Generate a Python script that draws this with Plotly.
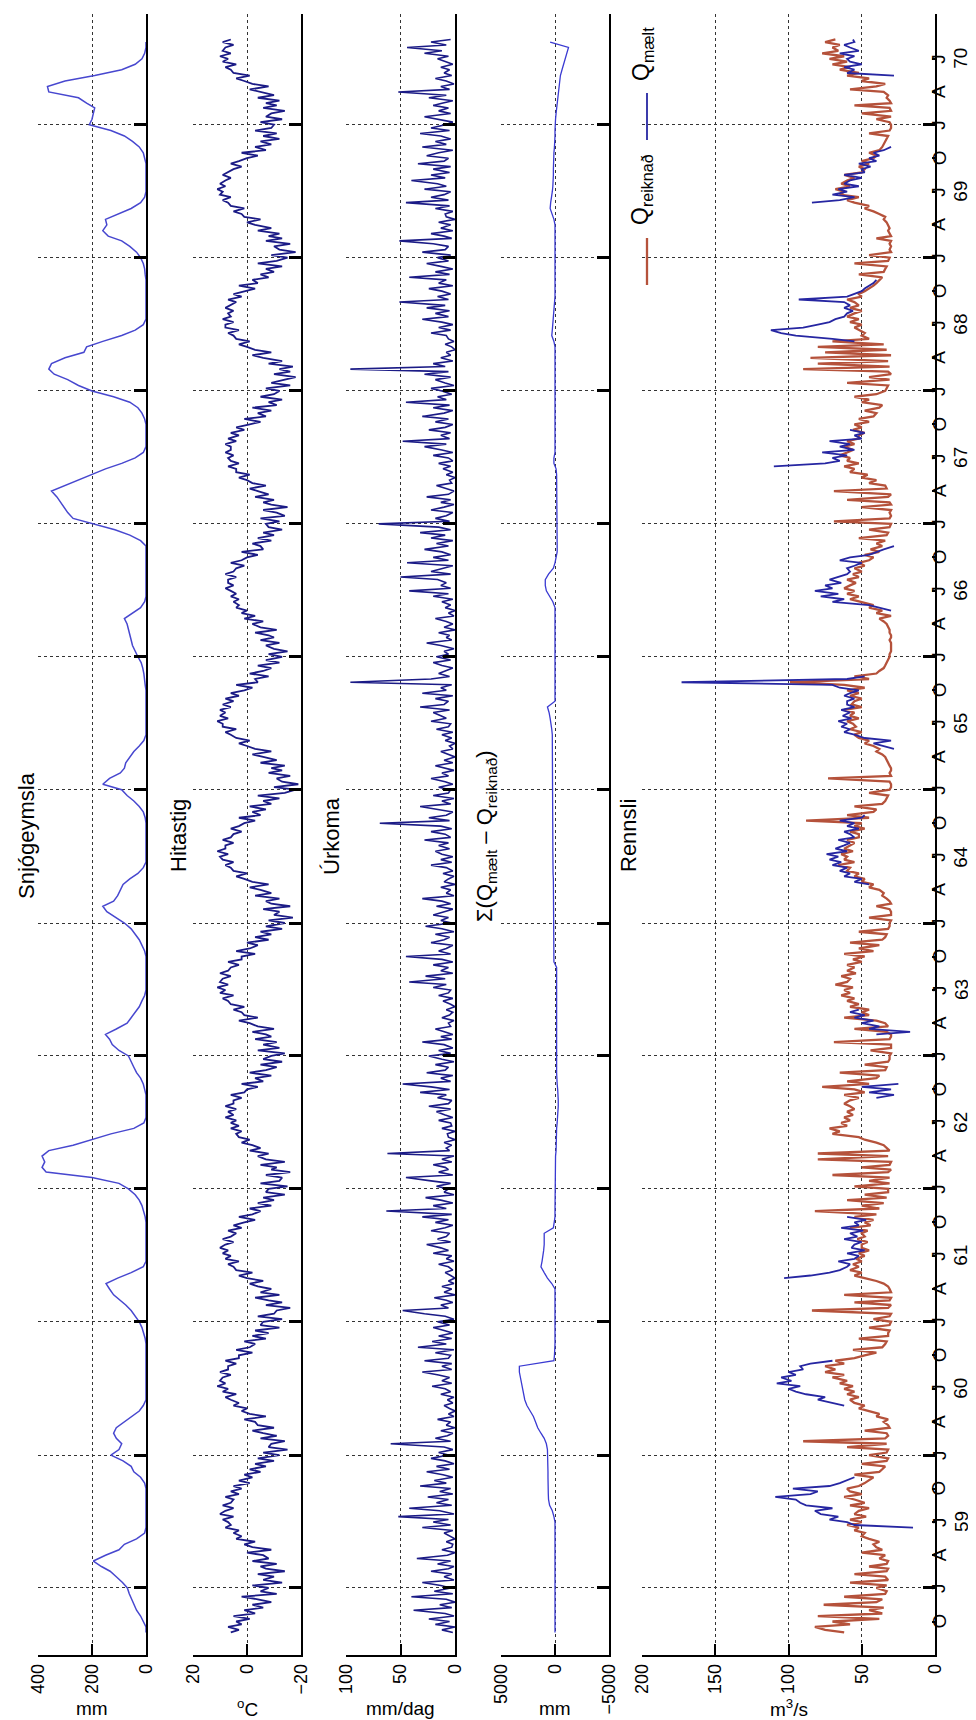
import plotly.graph_objects as go

N = None

# ---------------- sampling grid (hydrological years Sep 1958 - Aug 1970) ----------------
hydro_start_years = [1958, 1959, 1960, 1961, 1962, 1963, 1964, 1965, 1966, 1967, 1968, 1969]
month_numbers = [9, 10, 11, 12, 1, 2, 3, 4, 5, 6, 7, 8]
weekly_days = [1, 8, 16, 23]
half_month_days = [1, 16]

# ---------------- data ----------------
# Snow storage (mm), values on the 1st and 16th of each month, Sep..Aug
snow_mm = [
    0, 0, 10, 20, 35, 45, 55, 62, 69, 87, 110, 133, 165, 195, 150, 100, 80, 35, 5, 0, 0, 0, 0, 0,
    0, 0, 0, 5, 20, 45, 55, 85, 130, 100, 90, 110, 120, 110, 80, 55, 25, 10, 0, 0, 0, 0, 0, 0,
    0, 0, 0, 0, 0, 3, 8, 15, 25, 40, 55, 75, 95, 120, 135, 148, 105, 55, 10, 0, 0, 0, 0, 0,
    0, 0, 0, 3, 8, 15, 25, 40, 65, 100, 200, 370, 385, 375, 385, 360, 270, 200, 130, 45, 8, 0, 0, 0,
    0, 0, 5, 10, 20, 35, 45, 55, 65, 100, 125, 135, 150, 110, 70, 55, 40, 25, 15, 5, 0, 0, 0, 0,
    0, 0, 0, 5, 15, 25, 40, 55, 80, 110, 145, 160, 120, 105, 95, 85, 60, 30, 10, 0, 0, 0, 0, 0,
    0, 0, 0, 3, 10, 25, 45, 70, 90, 160, 135, 95, 80, 75, 60, 45, 25, 8, 0, 0, 0, 0, 0, 0,
    0, 0, 0, 3, 5, 8, 12, 18, 30, 40, 50, 55, 60, 65, 70, 80, 50, 20, 5, 0, 0, 0, 0, 0,
    0, 0, 0, 0, 0, 20, 60, 115, 200, 270, 290, 305, 315, 330, 350, 300, 250, 200, 150, 90, 40, 10, 0, 0,
    0, 0, 0, 5, 15, 30, 60, 120, 200, 250, 290, 340, 360, 350, 300, 230, 220, 160, 90, 40, 10, 0, 0, 0,
    0, 0, 0, 0, 0, 3, 5, 10, 20, 35, 60, 90, 140, 160, 145, 150, 100, 55, 20, 5, 0, 0, 0, 0,
    0, 0, 5, 10, 25, 50, 80, 130, 210, 200, 195, 190, 220, 250, 360, 365, 300, 190, 90, 40, 15, 5, 0, 0,
]

# Cumulative difference (mm), 1st and 16th of each month
sigma_mm = [
    0, 0, 0, 0, 0, 0, 0, 0, 0, 0, 0, 0, 0, 0, 0, 0, 0, 0, 0, 0, 0, 100, 250, 500,
    600, 620, 650, 650, 650, 650, 650, 650, 650, 700, 800, 1000, 1300, 1600, 1800, 2000, 2300, 2600, 2800, 2900, 3000, 3100, 3200, 3300,
    3300, 100, 50, 0, 0, 0, 0, 0, 0, 0, 0, 0, 0, 0, 0, 300, 700, 1000, 1300, 1200, 1100, 1050, 1000, 1000,
    1000, 150, 50, 0, 0, 0, 0, 0, 0, 0, 0, 0, -50, -50, -50, -100, -100, -100, -100, -150, -200, -250, -300, -300,
    -300, -300, -250, -200, -150, -150, -150, -150, -150, -150, -150, -150, -150, -150, -150, -150, -150, -150, -150, -150, -150, -150, -150, -150,
    -150, 100, 100, 100, 100, 100, 100, 100, 100, 100, 100, 100, 100, 100, 100, 120, 150, 180, 200, 200, 200, 200, 200, 200,
    200, 200, 200, 200, 200, 200, 200, 200, 200, 200, 200, 200, 200, 200, 200, 200, 200, 220, 250, 300, 350, 450, 550, 700,
    0, 0, 0, 0, 0, 0, 0, 0, 0, 0, 0, 0, 0, 0, 0, 0, 0, 0, 200, 500, 800, 900, 900, 600,
    150, 0, -100, -200, -200, -200, -200, -200, -200, -200, -200, -200, -200, -200, -200, -200, -200, -150, -100, 100, 100, 0, 0, 0,
    0, 0, 0, 0, 0, 0, 0, 0, 0, 0, 0, 0, 0, 0, 0, 0, 0, 100, 300, 250, 200, 150, 100, 50,
    50, 0, 0, 0, 0, 0, 0, 0, 0, 0, 0, 0, 0, 0, 0, 100, 300, 450, 400, 300, 250, 200, 150, 150,
    150, 150, 150, 100, 50, 0, 0, 0, 0, -50, -100, -150, -200, -250, -300, -350, -400, -500, -650, -800, -950, -1100, -1250, 450,
]

# Air temperature (deg C), four values per month
temp_c = [
    6, 3, 7, 2, 4, -1, 5, -3, 1, -6, -2, -9, -4, 2, -11, -5, -8, -2, -13, -6, -10, -4, -14, -7, -5, -11, -2, -8, -6, 0, -9, -2, 1, -3, 4, 2, 5, 3, 8, 6, 7, 9, 5, 10, 8, 5, 9, 6,
    5, 8, 3, 6, 2, 5, -1, 3, -2, 1, -5, -1, -7, -3, -10, -4, -12, -6, -15, -8, -9, -14, -5, -11, -6, -2, -10, -4, -3, 1, -7, -1, 2, 0, 5, 3, 6, 8, 4, 9, 7, 11, 8, 10, 9, 6, 10, 7,
    7, 4, 8, 3, 3, -2, 4, -1, -3, 1, -7, -2, -8, -3, -12, -5, -6, -13, -4, -10, -11, -16, -7, -13, -8, -3, -12, -5, -9, -4, -1, -6, 0, 3, -2, 4, 5, 7, 3, 8, 6, 9, 7, 10, 8, 5, 9, 6,
    4, 7, 2, 5, 1, -3, 3, -2, -5, -1, -9, -4, -10, -6, -14, -7, -8, -15, -5, -12, -13, -7, -16, -9, -11, -5, -14, -7, -4, -8, -1, -5, -2, 2, -1, 3, 4, 2, 6, 3, 6, 4, 8, 5, 7, 4, 8, 5,
    5, 2, 6, 1, 0, -4, 2, -6, -3, -9, -1, -7, -11, -5, -13, -6, -9, -14, -4, -12, -6, -11, -3, -9, -7, -2, -10, -4, -1, 3, -4, 1, 2, 5, 1, 6, 7, 9, 5, 10, 8, 11, 7, 10, 9, 6, 10, 7,
    6, 3, 7, 2, 2, -3, 4, -1, -4, 0, -8, -3, -9, -5, -13, -7, -14, -8, -17, -10, -12, -6, -16, -9, -7, -12, -3, -9, -5, -1, -8, -2, 1, 4, 0, 5, 6, 8, 5, 9, 10, 7, 11, 8, 8, 5, 9, 6,
    5, 2, 6, 3, 1, -3, 3, -5, -2, -7, -1, -9, -6, -12, -4, -14, -18, -10, -19, -13, -11, -16, -8, -13, -9, -14, -5, -11, -6, -2, -9, -3, 0, 3, -1, 4, 6, 8, 4, 9, 9, 11, 7, 10, 8, 10, 6, 9,
    5, 8, 3, 6, 1, -2, 4, -4, -3, -8, -1, -6, -9, -4, -12, -7, -13, -8, -15, -10, -7, -12, -5, -10, -8, -3, -11, -5, -2, -6, 1, -3, 2, 0, 4, 3, 5, 3, 6, 4, 6, 8, 5, 7, 7, 4, 8, 5,
    4, 1, 6, 2, 0, -4, 2, -6, -5, -2, -9, -4, -10, -6, -13, -8, -7, -12, -5, -14, -11, -6, -15, -9, -6, -10, -3, -8, -4, -1, -7, -2, 0, 3, -1, 4, 4, 7, 3, 6, 7, 5, 8, 6, 6, 8, 4, 7,
    3, 6, 1, 4, -1, -5, 1, -7, -4, -9, -2, -11, -8, -13, -5, -10, -12, -7, -16, -9, -14, -18, -10, -16, -12, -17, -8, -13, -6, -2, -9, -3, 0, 3, -1, 4, 5, 7, 3, 8, 8, 5, 9, 6, 7, 5, 8, 6,
    4, 7, 2, 5, 1, -3, 3, -4, -2, -8, -5, -10, -7, -13, -4, -11, -15, -9, -18, -12, -10, -16, -7, -13, -8, -12, -4, -9, -3, 0, -5, 1, 2, 5, 1, 6, 7, 9, 6, 10, 9, 11, 8, 10, 8, 6, 9, 7,
    5, 2, 6, 3, 0, -4, 2, -7, -3, -9, -5, -12, -6, -11, -3, -9, -10, -5, -13, -7, -9, -14, -6, -11, -7, -12, -4, -10, -5, -1, -8, -2, 1, 4, -1, 5, 6, 8, 4, 9, 7, 10, 6, 9, 8, 5, 9, 6,
]

# Precipitation (mm/day), four values per month
precip_mm = [
    2, 12, 0, 18, 5, 24, 1, 9, 38, 3, 14, 0, 8, 40, 2, 19, 4, 13, 30, 1, 10, 3, 22, 6, 1, 16, 4, 35, 7, 0, 12, 3, 2, 8, 0, 5, 10, 2, 30, 4, 20, 6, 52, 1, 14, 42, 3, 17,
    6, 25, 2, 14, 4, 32, 8, 19, 2, 11, 26, 5, 17, 1, 9, 22, 6, 15, 2, 10, 59, 4, 18, 7, 2, 13, 0, 8, 4, 16, 1, 6, 0, 5, 10, 2, 7, 1, 13, 4, 9, 21, 3, 12, 5, 15, 30, 3,
    12, 3, 28, 6, 4, 18, 1, 34, 8, 21, 3, 15, 2, 10, 20, 5, 16, 1, 9, 28, 48, 6, 13, 2, 8, 19, 0, 10, 3, 12, 1, 6, 0, 4, 9, 2, 6, 15, 1, 8, 3, 20, 6, 13, 26, 4, 16, 8,
    5, 22, 9, 2, 18, 6, 30, 3, 63, 8, 20, 2, 13, 27, 1, 10, 6, 17, 4, 22, 45, 2, 15, 6, 9, 20, 3, 12, 1, 62, 5, 8, 3, 10, 0, 6, 7, 0, 12, 3, 4, 15, 2, 9, 17, 4, 24, 6,
    3, 16, 8, 32, 5, 22, 48, 4, 13, 2, 26, 9, 6, 18, 1, 12, 24, 4, 15, 2, 10, 30, 3, 13, 2, 9, 18, 4, 6, 1, 12, 5, 2, 8, 0, 4, 11, 2, 15, 6, 4, 20, 8, 42, 9, 27, 2, 13,
    6, 20, 2, 12, 45, 4, 15, 8, 2, 22, 10, 5, 18, 1, 12, 27, 3, 13, 6, 20, 9, 2, 17, 4, 12, 30, 1, 8, 4, 13, 0, 10, 6, 1, 11, 2, 8, 22, 3, 13, 2, 12, 18, 5, 15, 6, 28, 4,
    9, 22, 3, 13, 69, 5, 24, 8, 2, 16, 32, 4, 12, 1, 20, 6, 4, 15, 2, 9, 22, 6, 12, 1, 8, 18, 2, 10, 0, 6, 13, 2, 5, 0, 9, 3, 12, 2, 17, 6, 4, 22, 8, 13, 20, 5, 32, 10,
    6, 18, 2, 30, 8, 13, 3, 96, 22, 5, 15, 9, 2, 12, 20, 4, 17, 6, 10, 1, 13, 26, 3, 8, 5, 15, 0, 10, 2, 8, 18, 1, 6, 0, 9, 4, 12, 2, 20, 6, 42, 4, 13, 8, 16, 50, 4, 22,
    10, 2, 44, 6, 20, 4, 12, 28, 6, 17, 2, 22, 9, 32, 4, 15, 70, 5, 18, 8, 2, 22, 10, 1, 13, 4, 26, 6, 1, 9, 17, 3, 5, 0, 8, 2, 11, 4, 15, 2, 6, 20, 2, 12, 28, 8, 48, 5,
    13, 4, 24, 9, 2, 18, 6, 30, 10, 2, 20, 5, 45, 8, 16, 3, 12, 22, 1, 9, 18, 4, 28, 6, 96, 9, 20, 2, 13, 4, 8, 0, 3, 9, 1, 6, 8, 22, 4, 15, 2, 12, 30, 6, 18, 5, 26, 9,
    51, 6, 16, 4, 12, 24, 2, 15, 8, 42, 5, 18, 2, 13, 26, 6, 16, 4, 30, 9, 6, 20, 51, 3, 10, 22, 2, 13, 4, 15, 0, 8, 9, 2, 18, 5, 45, 6, 22, 10, 4, 28, 8, 16, 40, 9, 22, 5,
    20, 4, 34, 10, 6, 26, 15, 2, 30, 8, 18, 4, 13, 32, 5, 22, 9, 2, 16, 28, 4, 15, 6, 20, 12, 2, 24, 8, 52, 5, 13, 1, 8, 18, 3, 10, 5, 13, 2, 9, 16, 6, 28, 12, 44, 8, 22, 4,
]

# Runoff, computed (m3/s), four values per month
q_reiknad = [
    62, 75, 82, 58, 70, 38, 80, 36, 45, 35, 76, 40, 36, 62, 34, 33, 40, 33, 58, 32, 34, 55, 33, 32, 45, 33, 32, 38, 34, 50, 36, 40, 42, 38, 45, 50, 48, 55, 52, 60, 50, 58, 47, 55, 52, 45, 58, 48,
    55, 62, 50, 58, 60, 52, 48, 45, 42, 55, 38, 36, 34, 50, 33, 32, 45, 33, 32, 60, 33, 90, 34, 32, 33, 48, 31, 32, 35, 32, 40, 38, 45, 52, 48, 55, 58, 52, 60, 55, 62, 56, 65, 60, 70, 62, 75, 68,
    75, 62, 68, 55, 48, 40, 56, 36, 34, 33, 52, 32, 32, 31, 45, 31, 30, 42, 31, 30, 84, 32, 30, 55, 31, 30, 62, 30, 31, 32, 35, 40, 48, 55, 50, 58, 52, 56, 50, 54, 48, 52, 45, 50, 50, 46, 53, 48,
    50, 46, 58, 44, 48, 42, 55, 40, 82, 38, 50, 35, 60, 33, 48, 32, 32, 55, 31, 45, 31, 70, 32, 30, 50, 31, 30, 80, 32, 80, 31, 33, 35, 40, 48, 52, 70, 65, 72, 60, 64, 58, 62, 56, 60, 55, 58, 62,
    58, 52, 62, 48, 55, 77, 45, 60, 40, 38, 65, 34, 33, 48, 32, 31, 31, 30, 44, 30, 30, 69, 31, 30, 30, 33, 55, 32, 34, 40, 62, 45, 50, 45, 58, 52, 60, 55, 64, 58, 62, 56, 68, 60, 58, 64, 54, 60,
    55, 60, 50, 56, 48, 62, 42, 52, 38, 58, 36, 34, 33, 52, 32, 31, 31, 30, 45, 30, 30, 31, 40, 30, 31, 33, 36, 35, 38, 45, 42, 50, 48, 55, 52, 60, 58, 66, 55, 62, 60, 64, 56, 62, 58, 55, 60, 52,
    52, 58, 48, 55, 50, 88, 45, 60, 42, 40, 55, 36, 34, 33, 32, 45, 31, 30, 30, 31, 73, 30, 31, 30, 30, 31, 32, 33, 34, 36, 40, 38, 42, 48, 45, 52, 55, 50, 58, 54, 56, 60, 52, 58, 55, 62, 50, 57,
    55, 50, 58, 52, 60, 48, 62, 99, 45, 55, 40, 38, 35, 34, 33, 32, 31, 31, 30, 30, 30, 30, 31, 30, 30, 31, 31, 32, 33, 35, 38, 30, 40, 36, 45, 42, 50, 58, 52, 60, 55, 62, 58, 54, 60, 52, 56, 50,
    55, 48, 52, 45, 42, 48, 38, 44, 36, 40, 34, 52, 33, 32, 45, 31, 30, 69, 31, 30, 31, 30, 50, 30, 31, 60, 32, 30, 69, 33, 34, 45, 40, 50, 46, 58, 55, 62, 52, 60, 58, 65, 60, 56, 62, 55, 60, 52,
    52, 48, 56, 50, 55, 45, 52, 42, 40, 48, 38, 36, 50, 45, 55, 40, 34, 33, 32, 60, 31, 45, 30, 32, 90, 31, 80, 32, 85, 30, 75, 33, 80, 35, 70, 45, 50, 48, 52, 55, 50, 58, 52, 60, 55, 50, 58, 52,
    55, 60, 50, 52, 48, 45, 42, 40, 38, 36, 52, 35, 34, 33, 55, 32, 31, 45, 30, 31, 30, 31, 30, 40, 30, 31, 32, 31, 32, 33, 35, 34, 38, 42, 48, 45, 55, 60, 52, 65, 62, 68, 58, 64, 60, 55, 62, 50,
    48, 52, 45, 50, 42, 40, 45, 38, 36, 35, 34, 33, 32, 45, 31, 30, 30, 31, 40, 30, 50, 30, 31, 55, 30, 31, 33, 32, 35, 58, 40, 34, 50, 45, 60, 52, 65, 58, 70, 60, 72, 62, 77, 66, 70, 65, 75, 68,
]

# Runoff, measured (m3/s), four values per month, N = no measurement
q_maelt = (
    [N] * 36 + [N, N, 15, 55, 60, 72, 66, 78, 82, 70, 88, 92]
    + [95, 109, 85, 80, 97, 72, 65, 60, 55, N, N, N] + [N] * 20 + [N, N, 62, 70, 80, 75, 88, 95, 100, 92, 108, 98, 105, 95, 100, 90]
    + [92, 85, 70, N] + [N] * 28 + [103, 85, 72, 65, 60, 58, 66, 55, 52, 60, 48, 57, 55, 50, 62, 53]
    + [58, 49, 64, 52, 55, 47, 60, N] + [N] * 40
    + [N, 40, 28, 45, 30, 50, 25, N] + [N] * 16 + [40, 17, 45, 38, 50, 42, 55, 48, 58, 52, N, N] + [N] * 12
    + [N] * 28 + [N, N, 45, 55, 50, 62, 58, 65, 60, 70, 64, 72, 66, 74, 60, 68, 62, 58, 66, 55]
    + [58, 62, 52, 60, 55, 65, 50, 48] + [N] * 20 + [N, N, N, 28, 35, 42, 30, 48, 55, 62, 58, 64, 60, 66, 57, 63, 58, 64, 55, 60]
    + [60, 55, 62, 58, 52, 65, 70, 173, 60, 48, N, N] + [N] * 20 + [N, 30, 38, 45, 70, 62, 78, 66, 82, 70, 75, 64, 72, 66, 60, 58]
    + [60, 55, 50, 65, 58, 45, 40, 35, 28, N, N, N] + [N] * 24 + [N, 110, 75, 65, 70, 60, 77, 55, 65, 58, 72, 50]
    + [55, 48, 58, N] + [N] * 28 + [N, N, 55, 70, 95, 105, 112, 90, 80, 72, 68, 62, 60, 56, 62, 58]
    + [62, 93, 60, 55, 50, 48, 45, 42, 40, N, N, N] + [N] * 24 + [84, 65, 55, 70, 60, 66, 52, 62, 58, 50, 62, 48]
    + [50, 44, 52, 40, 45, 38, 42, 35, 30, N, N, N] + [N] * 20 + [N, N, 28, 60, 55, 62, 50, 58, 60, 55, 65, 52, 58, 62, 55, 56]
)

panel_titles = ["Snjógeymsla", "Hitastig", "Úrkoma",
                "Σ(Q<sub>mælt</sub> – Q<sub>reiknað</sub>)", "Rennsli"]
unit_labels = ["mm", "<sup>o</sup>C", "mm/dag", "mm", "m<sup>3</sup>/s"]
value_tick_vals = [[0, 200, 400], [-20, 0, 20], [0, 50, 100], [-5000, 0, 5000], [0, 50, 100, 150, 200]]
value_tick_text = [["0", "200", "400"], ["−20", "0", "20"], ["0", "50", "100"],
                   ["−5000", "0", "5000"], ["0", "50", "100", "150", "200"]]
value_ranges = [[400, 0], [20, -20], [100, 0], [5000, -5000], [200, 0]]
quarter_months = [1, 4, 7, 10]
quarter_letters = ["J", "A", "J", "O"]
year_labels = ["59", "60", "61", "62", "63", "64", "65", "66", "67", "68", "69", "70"]
legend_names = ["Q<sub>reiknað</sub>", "Q<sub>mælt</sub>"]


# ---------------- dates ----------------
def sample_dates(days):
    out = []
    for y0 in hydro_start_years:
        for m in month_numbers:
            yr = y0 if m >= 9 else y0 + 1
            for d in days:
                out.append(f"{yr}-{m:02d}-{d:02d}")
    return out


d_week = sample_dates(weekly_days)
d_half = sample_dates(half_month_days)
for name, arr, dd in [("snow", snow_mm, d_half), ("sigma", sigma_mm, d_half), ("temp", temp_c, d_week),
                      ("precip", precip_mm, d_week), ("qr", q_reiknad, d_week), ("qm", q_maelt, d_week)]:
    if len(arr) != len(dd):
        raise ValueError(f"{name}: {len(arr)} values for {len(dd)} dates")

jan_dates = [f"{y}-01-01" for y in range(1959, 1971)]
quarter_vals, quarter_text = [], []
for yr in range(1958, 1971):
    for m, letter in zip(quarter_months, quarter_letters):
        date = f"{yr}-{m:02d}-01"
        if "1958-10-01" <= date <= "1970-07-01":
            quarter_vals.append(date)
            quarter_text.append(letter)
year_vals = [f"19{y}-07-01" for y in year_labels]

# ---------------- layout geometry (pixels of the 976x1720 page) ----------------
W, H = 976, 1720
FONT = "Liberation Sans, Arial, Helvetica, sans-serif"
panel_px = [(30, 138), (185, 293), (338, 447), (493, 601), (634, 927)]
y_dom = [1 - 1647 / H, 1 - 6 / H]
t_range = ["1958-07-01", "1970-11-01"]
GRID = "#333333"

fig = go.Figure()

series = [
    (snow_mm, d_half, "#4747cf", 1.5, 1),
    (temp_c, d_week, "#1b1b86", 1.8, 2),
    (precip_mm, d_week, "#1b1b86", 1.6, 3),
    (sigma_mm, d_half, "#3a3ad2", 1.3, 4),
    (q_reiknad, d_week, "#b5523b", 2.3, 5),
    (q_maelt, d_week, "#2626a2", 1.8, 5),
]
for vals, dates, color, width, k in series:
    fig.add_trace(go.Scatter(
        x=vals, y=dates, mode="lines", line=dict(color=color, width=width),
        xaxis=f"x{k}", yaxis=f"y{k}", showlegend=False, connectgaps=False, hoverinfo="skip"))

# dummy trace so the quarter-tick axis (y6) is drawn
fig.add_trace(go.Scatter(x=[None], y=[None], xaxis="x5", yaxis="y6", showlegend=False, hoverinfo="skip"))

layout = dict(
    width=W, height=H, margin=dict(l=0, r=0, t=0, b=0),
    paper_bgcolor="white", plot_bgcolor="white",
    font=dict(family=FONT, size=18, color="black"),
    showlegend=False,
)
for i, (x0, x1) in enumerate(panel_px):
    k = i + 1
    layout[f"xaxis{k}"] = dict(
        domain=[x0 / W, x1 / W], range=value_ranges[i], anchor=f"y{k}",
        tickvals=value_tick_vals[i], ticktext=value_tick_text[i], tickangle=-90,
        ticks="inside", ticklen=11, tickwidth=1.5, tickcolor="black",
        showline=True, linecolor="black", linewidth=1.6,
        showgrid=True, gridcolor=GRID, griddash="dot", gridwidth=1,
        zeroline=False, automargin=False, tickfont=dict(size=18, family=FONT),
    )
    layout[f"yaxis{k}"] = dict(
        domain=y_dom, anchor=f"x{k}", type="date", range=t_range, side="right",
        tickvals=jan_dates, showticklabels=False,
        ticks="inside", ticklen=12, tickwidth=2.5, tickcolor="black",
        showline=True, linecolor="black", linewidth=1.6,
        showgrid=True, gridcolor=GRID, griddash="dot", gridwidth=1,
        zeroline=False, automargin=False,
    )
layout["yaxis6"] = dict(
    overlaying="y5", anchor="x5", side="right", type="date", range=t_range,
    tickvals=quarter_vals, showticklabels=False,
    ticks="inside", ticklen=3, tickwidth=1.5, tickcolor="black",
    showgrid=False, showline=False, zeroline=False, automargin=False,
)
fig.update_layout(**layout)

annotations = []
# time labels to the right of the last panel (rotated)
for v, t in zip(quarter_vals, quarter_text):
    annotations.append(dict(text=t, x=931 / W, y=v, xref="paper", yref="y5", textangle=-90,
                            showarrow=False, xanchor="center", yanchor="middle",
                            font=dict(size=19, family=FONT)))
for v, t in zip(year_vals, year_labels):
    annotations.append(dict(text=t, x=953 / W, y=v, xref="paper", yref="y5", textangle=-90,
                            showarrow=False, xanchor="center", yanchor="middle",
                            font=dict(size=19, family=FONT)))

# panel titles (rotated) and unit labels (horizontal)
title_x = [18, 170, 323, 478, 620]
for i in range(5):
    annotations.append(dict(
        text=panel_titles[i], x=title_x[i] / W, y=1 - 828 / H, xref="paper", yref="paper",
        textangle=-90, showarrow=False, font=dict(size=22, family=FONT),
        xanchor="center", yanchor="middle"))
    x0, x1 = panel_px[i]
    annotations.append(dict(
        text=unit_labels[i], x=(x0 + x1) / 2 / W, y=1 - 1700 / H, xref="paper", yref="paper",
        showarrow=False, font=dict(size=19, family=FONT), xanchor="center", yanchor="middle"))

# legend (rotated)
leg_x = 634 / W
annotations.append(dict(text=legend_names[0], x=leg_x, y=1 - 182 / H, xref="paper", yref="paper",
                        textangle=-90, showarrow=False, xanchor="center", yanchor="middle",
                        font=dict(size=23, family=FONT)))
annotations.append(dict(text=legend_names[1], x=leg_x, y=1 - 46 / H, xref="paper", yref="paper",
                        textangle=-90, showarrow=False, xanchor="center", yanchor="middle",
                        font=dict(size=23, family=FONT)))
fig.update_layout(annotations=annotations)
fig.add_shape(type="line", xref="paper", yref="paper", x0=639 / W, x1=639 / W,
              y0=1 - 277 / H, y1=1 - 230 / H, line=dict(color="#b5523b", width=2.3))
fig.add_shape(type="line", xref="paper", yref="paper", x0=639 / W, x1=639 / W,
              y0=1 - 132 / H, y1=1 - 85 / H, line=dict(color="#2626a2", width=1.8))

fig.write_html("out.html")
